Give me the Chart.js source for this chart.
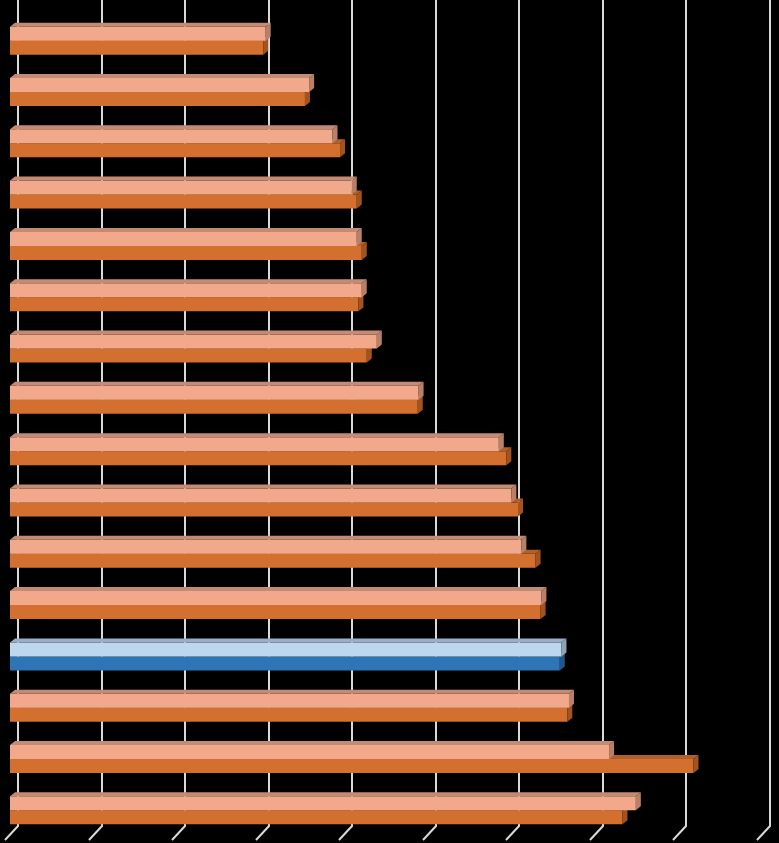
<!DOCTYPE html>
<html>
<head>
<meta charset="utf-8">
<title>Bar chart</title>
<script src="https://cdn.jsdelivr.net/npm/chart.js@4.4.1/dist/chart.umd.min.js"></script>
<style>
  html, body { margin: 0; padding: 0; background: #000; overflow: hidden; }
  #wrap { width: 779px; height: 843px; position: relative; }
</style>
</head>
<body>
<div id="wrap"><canvas id="chart"></canvas></div>
<script>
// ── Data (no labels are printed on the original) ─────────────
const categories = ['1','2','3','4','5','6','7','8','9','10','11','12','13','14','15','16'];
const seriesA = [3.06, 3.58, 3.86, 4.09, 4.15, 4.21, 4.39, 4.89, 5.85, 6.00, 6.12, 6.36, 6.60, 6.69, 7.17, 7.49];
const seriesB = [3.03, 3.53, 3.95, 4.15, 4.21, 4.17, 4.27, 4.88, 5.94, 6.08, 6.29, 6.35, 6.58, 6.67, 8.18, 7.33];
const gridTicks = [0, 1, 2, 3, 4, 5, 6, 7, 8, 9];
const highlight = 12;   // the blue row

// ── Colours: front / top / side faces ─────────────────────────
const PAL = {
  a:  { front: '#F2A98B', top: '#C48B74', side: '#B98068' },
  b:  { front: '#D4702F', top: '#B0602A', side: '#A3531F' },
  ah: { front: '#BDD7EE', top: '#9AAFC3', side: '#8FA3B5' },
  bh: { front: '#2E75B6', top: '#275F93', side: '#22568A' }
};
const pick = (key, hkey) => categories.map((_, i) => i === highlight ? PAL[hkey] : PAL[key]);
const facesA = pick('a', 'ah');
const facesB = pick('b', 'bh');

const DX = 5, DY = 4;       // 3-D depth of the bars
const WALL = 8;             // back wall offset of the gridlines

// back wall gridlines with a slanted foot on the floor
const wallGrid = {
  id: 'wallGrid',
  beforeDraw(chart) {
    const ctx = chart.ctx;
    ctx.save();
    ctx.fillStyle = '#000';
    ctx.fillRect(0, 0, chart.width, chart.height);
    ctx.restore();
  },
  beforeDatasetsDraw(chart) {
    const { ctx, scales: { x } } = chart;
    ctx.save();
    ctx.strokeStyle = '#D9D9D9';
    ctx.lineWidth = 2;
    gridTicks.forEach(v => {
      const xb = Math.round(x.getPixelForValue(v) + WALL);
      ctx.beginPath();
      ctx.moveTo(xb, 0);
      ctx.lineTo(xb, 826);
      ctx.lineTo(xb - 13, 840);
      ctx.stroke();
    });
    ctx.restore();
  }
};

// top and side faces, drawn right after each dataset
const bar3d = {
  id: 'bar3d',
  afterDatasetDraw(chart, args) {
    const ctx = chart.ctx;
    const faces = args.index === 0 ? facesA : facesB;
    ctx.save();
    args.meta.data.forEach((bar, i) => {
      const { x, y, base, height } = bar.getProps(['x', 'y', 'base', 'height'], true);
      const top = y - height / 2;
      ctx.fillStyle = faces[i].top;
      ctx.beginPath();
      ctx.moveTo(base, top);
      ctx.lineTo(x, top);
      ctx.lineTo(x + DX, top - DY);
      ctx.lineTo(base + DX, top - DY);
      ctx.closePath();
      ctx.fill();
      ctx.fillStyle = faces[i].side;
      ctx.beginPath();
      ctx.moveTo(x, top);
      ctx.lineTo(x + DX, top - DY);
      ctx.lineTo(x + DX, top + height - DY);
      ctx.lineTo(x, top + height);
      ctx.closePath();
      ctx.fill();
    });
    ctx.restore();
  }
};

new Chart(document.getElementById('chart'), {
  type: 'bar',
  data: {
    labels: categories,
    datasets: [
      { data: seriesA, backgroundColor: facesA.map(f => f.front), borderWidth: 0 },
      { data: seriesB, backgroundColor: facesB.map(f => f.front), borderWidth: 0 }
    ]
  },
  options: {
    indexAxis: 'y',
    responsive: true,
    maintainAspectRatio: false,
    animation: false,
    layout: { padding: { left: 10, right: 17, top: 15, bottom: 7 } },
    datasets: { bar: { categoryPercentage: 0.546, barPercentage: 1 } },
    plugins: { legend: { display: false }, tooltip: { enabled: false } },
    scales: {
      x: { display: false, min: 0, max: 9 },
      y: { display: false }
    }
  },
  plugins: [wallGrid, bar3d]
});
</script>
</body>
</html>
